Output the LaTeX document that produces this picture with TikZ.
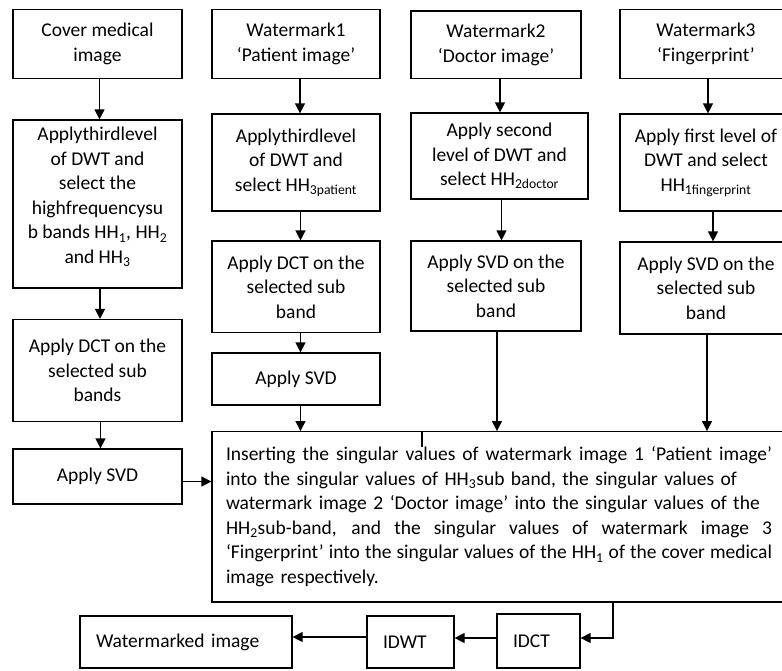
\documentclass[tikz,border=0pt]{standalone}
\usepackage{fontspec}
\setmainfont{Carlito}
\usetikzlibrary{arrows.meta,calc}
\newcommand{\sub}[1]{\textsubscript{#1}}
\newcommand{\fullline}[1]{\makebox[546pt][s]{\spaceskip=.3333em plus 1em minus .12em #1}}
\begin{document}
\begin{tikzpicture}[x=1pt,y=-1pt,
  box/.style={draw, line width=1.2pt, align=center, inner sep=0pt,
    font=\fontsize{19.5}{24.5}\selectfont},
  txt/.style={align=center, inner sep=0pt, font=\fontsize{19.5}{24.5}\selectfont},
  arr/.style={line width=1.2pt, -{Triangle[length=10pt,width=10pt]}},
  ln/.style={line width=1.2pt}]
\useasboundingbox (0,0) rectangle (782,670);
\clip (0,0) rectangle (782,670);
% column 1
\node[box, minimum width=169pt, minimum height=69pt] (c1) at (97.5,44) {Cover medical\\image};
\node[box, minimum width=169pt, minimum height=168pt] (c2) at (97.5,204) {};
\node[txt] (c2t) at (97.5,197) {Applythirdlevel\\of DWT and\\select the\\highfrequencysu\\b bands HH\sub{1}, HH\sub{2}\\and HH\sub{3}};
\node[box, minimum width=169pt, minimum height=102pt] (c3) at (97.5,370.5) {Apply DCT on the\\selected sub\\bands};
\node[box, minimum width=169pt, minimum height=55pt] (c4) at (97.5,476.5) {Apply SVD};
% column 2
\node[box, minimum width=168pt, minimum height=69pt] (p1) at (296,44) {Watermark1\\‘Patient image’};
\node[box, minimum width=168pt, minimum height=97pt] (p2) at (296,162.5) {Applythirdlevel\\of DWT and\\select HH\sub{3patient}};
\node[box, minimum width=168pt, minimum height=91.5pt] (p3) at (296,286.8) {Apply DCT on the\\selected sub\\band};
\node[box, minimum width=168pt, minimum height=52pt] (p4) at (296,379) {Apply SVD};
% column 3
\node[box, minimum width=170pt, minimum height=67.5pt] (d1) at (496,44.7) {Watermark2\\‘Doctor image’};
\node[box, minimum width=177pt, minimum height=86pt] (d2) at (499.5,156) {Apply second\\level of DWT and\\select HH\sub{2doctor}};
\node[box, minimum width=170pt, minimum height=90pt] (d3) at (496,286) {Apply SVD on the\\selected sub\\band};
% column 4
\node[box, minimum width=172pt, minimum height=69.4pt] (f1) at (706,44) {Watermark3\\‘Fingerprint’};
\node[box, minimum width=172pt, minimum height=97pt] (f2) at (706,162.5) {Apply first level of\\DWT and select\\HH\sub{1fingerprint}};
\node[box, minimum width=172pt, minimum height=92pt] (f3) at (706,288) {Apply SVD on the\\selected sub\\band};
% big box
\node[box, minimum width=574pt, minimum height=170.3pt, text width=546pt, align=left] (big) at (499,516.8) {%
\fullline{Inserting the singular values of watermark image 1 ‘Patient image’}\\
into the singular values of HH\sub{3}sub band, the singular values of\\
watermark image 2 ‘Doctor image’ into the singular values of the\\
\fullline{HH\sub{2}sub-band, and the singular values of watermark image 3}\\
\makebox[546pt][s]{\spaceskip=2.6pt plus 3pt minus 0.5pt ‘Fingerprint’ into the singular values of the HH\sub{1} of the cover medical}\\
image respectively.};
% bottom row
\node[box, minimum width=212pt, minimum height=52pt, text width=180pt, inner xsep=16pt, align=left] (wm) at (186,642) {Watermarked image};
\node[box, minimum width=87pt, minimum height=52pt, text width=55pt, inner xsep=16pt, align=left] (idwt) at (410.5,642) {IDWT};
\node[box, minimum width=83pt, minimum height=54pt, text width=51pt, inner xsep=16pt, align=left] (idct) at (538.5,641) {IDCT};
% connectors column 1
\draw[arr] ([xshift=2pt]c1.south) -- ([xshift=2pt]c1.south |- c2.north);
\draw[arr] ([xshift=2.5pt]c2.south) -- ([xshift=2.5pt]c2.south |- c3.north);
\draw[arr] ([xshift=3pt]c3.south) -- ([xshift=3pt]c3.south |- c4.north);
\draw[arr] ([yshift=-5pt]c4.east) -- ([yshift=-5pt]c4.east -| big.west);
% column 2
\draw[arr] ([xshift=4pt]p1.south) -- ([xshift=4pt]p1.south |- p2.north);
\draw[arr] ([xshift=4.5pt]p2.south) -- ([xshift=4.5pt]p2.south |- p3.north);
\draw[arr] ([xshift=4.5pt]p3.south) -- ([xshift=4.5pt]p3.south |- p4.north);
\draw[arr] ([xshift=4.5pt]p4.south) -- ([xshift=4.5pt]p4.south |- big.north);
% column 3
\draw[arr] ([xshift=4pt]d1.south) -- ([xshift=4pt]d1.south |- d2.north);
\draw[arr] ([xshift=2pt]d2.south) -- ([xshift=2pt]d2.south |- d3.north);
\draw[arr] ([xshift=1pt]d3.south) -- ([xshift=1pt]d3.south |- big.north);
% column 4
\draw[arr] ([xshift=2pt]f1.south) -- ([xshift=2pt]f1.south |- f2.north);
\draw[arr] ([xshift=7pt]f2.south) -- ([xshift=7pt]f2.south |- f3.north);
\draw[arr] ([xshift=1pt]f3.south) -- ([xshift=1pt]f3.south |- big.north);
% small tick
\coordinate (tick) at (422,447);
\draw[ln] (tick |- big.north) -- (tick);
% bottom connectors
\coordinate (drop) at (613,0);
\draw[arr] (drop |- big.south) |- ([yshift=3pt]idct.east);
\draw[arr] ([yshift=3pt]idct.west) -- ([yshift=3pt]idct.west -| idwt.east);
\draw[arr] ([yshift=5pt]idwt.west) -- ([yshift=5pt]idwt.west -| wm.east);
\end{tikzpicture}
\end{document}
